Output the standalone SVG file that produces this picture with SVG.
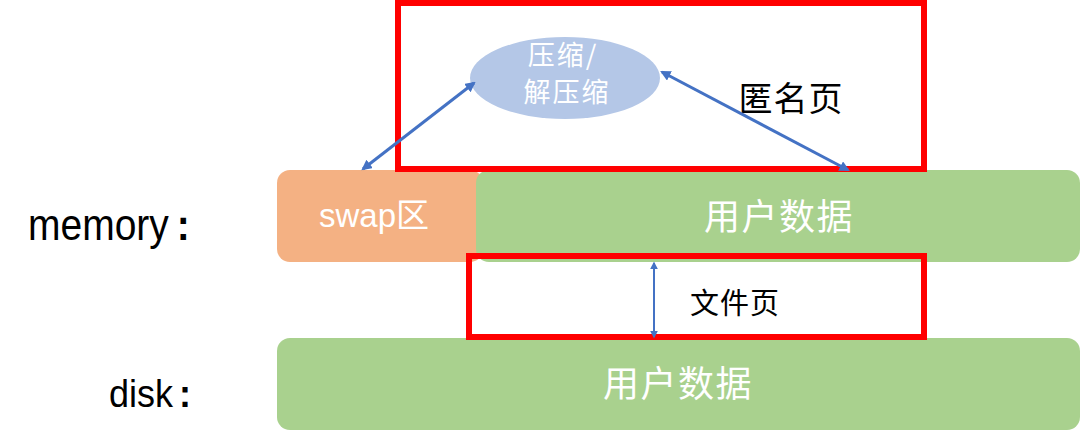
<svg xmlns="http://www.w3.org/2000/svg" width="1080" height="443" viewBox="0 0 1080 443">
<style>
text{font-family:"Liberation Sans","Noto Sans CJK SC",sans-serif;}
.cjk{font-family:"Noto Sans CJK SC",sans-serif;}
.w{fill:#ffffff;}
.k{fill:#000000;}
.red{fill:none;stroke:#ff0000;stroke-width:6;}
.con{stroke:#4472c4;stroke-width:3;fill:none;marker-start:url(#ah);marker-end:url(#ah);}
.con2{stroke:#4472c4;stroke-width:2;fill:none;marker-start:url(#ah2);marker-end:url(#ah2);}
</style>
<defs>
<marker id="ah" viewBox="0 0 10 10" refX="8" refY="5" markerWidth="3.5" markerHeight="3.5" orient="auto-start-reverse" markerUnits="strokeWidth">
<path d="M0,0 L10,5 L0,10 z" fill="#4472c4"/>
</marker>
<marker id="ah2" viewBox="0 0 10 10" refX="8" refY="5" markerWidth="4" markerHeight="4" orient="auto-start-reverse" markerUnits="strokeWidth">
<path d="M0,0 L10,5 L0,10 z" fill="#4472c4"/>
</marker>
</defs>
<g id="label-memory"><text class="k" transform="translate(28,240) scale(1,1.15)" font-size="39">memory<tspan font-weight="bold" dx="8">:</tspan></text></g>
<g id="label-disk"><text class="k" transform="translate(109,407) scale(1,1.1)" font-size="36">disk<tspan font-weight="bold" dx="6">:</tspan></text></g>
<g id="swap"><rect x="277" y="170" width="206" height="92" rx="13" fill="#f4b183"/><text class="w" x="374" y="227" font-size="33" text-anchor="middle">swap区</text></g>
<g id="mem-user"><rect x="476" y="170" width="604" height="92" rx="13" fill="#a9d18e"/><text class="w cjk" x="779" y="230" font-size="36" letter-spacing="1.5" text-anchor="middle">用户数据</text></g>
<g id="disk-user"><rect x="277" y="338" width="803" height="92" rx="13" fill="#a9d18e"/><text class="w cjk" x="678" y="397" font-size="36" letter-spacing="1.5" text-anchor="middle">用户数据</text></g>
<g id="compress"><ellipse cx="565" cy="78" rx="95" ry="41" fill="#b4c7e7"/><text class="w cjk" x="563" y="65" font-size="27" letter-spacing="2" text-anchor="middle">压缩/</text><text class="w cjk" x="567" y="102" font-size="27" letter-spacing="2" text-anchor="middle">解压缩</text></g>
<g id="anon-box"><rect class="red" x="398" y="3" width="526" height="166"/><text class="k cjk" x="791" y="111" font-size="34" letter-spacing="1" text-anchor="middle">匿名页</text></g>
<g id="file-box"><rect class="red" x="469" y="256" width="455" height="81"/><text class="k cjk" x="735" y="314" font-size="29" letter-spacing="1" text-anchor="middle">文件页</text></g>
<g id="connectors">
<line class="con" x1="363" y1="169" x2="474" y2="83"/>
<line class="con" x1="662" y1="72" x2="848" y2="170"/>
<line class="con2" x1="654" y1="263" x2="654" y2="337"/>
</g>
</svg>
